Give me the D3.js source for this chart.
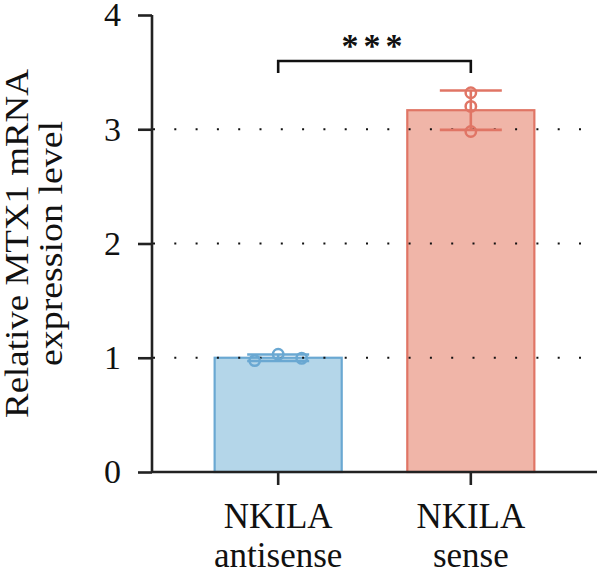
<!DOCTYPE html>
<html>
<head>
<meta charset="utf-8">
<script src="https://cdn.jsdelivr.net/npm/d3@7"></script>
<style>
  body { margin: 0; background: #fff; }
  svg text { font-family: "Liberation Serif", "Times New Roman", "DejaVu Serif", serif !important; fill: #111; }
</style>
</head>
<body>
<div id="container"></div>
<script>
const categories = ["NKILA antisense", "NKILA sense"];
const labelLines = [["NKILA", "antisense"], ["NKILA", "sense"]];
const replicates = [
  [1.03, 0.975, 0.995],
  [3.32, 3.2, 2.98],
];
const yTicks = [0, 1, 2, 3, 4];
const gridValues = [1, 2, 3];
const yTitle = ["Relative MTX1 mRNA", "expression level"];
const significance = "***";

const fills = ["#b4d6e9", "#f0b5a8"];
const strokes = ["#6aa8d2", "#e07565"];
const serif = "'Liberation Serif', 'Times New Roman', serif";

const width = 600;
const height = 574;
const margin = { top: 15, right: 3, bottom: 102, left: 152 };

const svg = d3
  .select("#container")
  .append("svg")
  .attr("width", width)
  .attr("height", height)
  .attr("font-family", serif);

const x = d3
  .scaleBand()
  .domain(categories)
  .range([margin.left, width - margin.right])
  .paddingInner(0.33)
  .paddingOuter(0.32);

const y = d3
  .scaleLinear()
  .domain([0, 4])
  .range([height - margin.bottom, margin.top]);

const stats = replicates.map((vals, i) => ({
  cat: categories[i],
  i,
  mean: d3.mean(vals),
  sd: d3.deviation(vals),
  vals,
}));

// bars
svg
  .selectAll("rect.bar")
  .data(stats)
  .join("rect")
  .attr("class", "bar")
  .attr("x", (d) => x(d.cat) + 1)
  .attr("width", x.bandwidth() - 2)
  .attr("y", (d) => y(d.mean))
  .attr("height", (d) => y(0) - y(d.mean))
  .attr("fill", (d) => fills[d.i])
  .attr("stroke", (d) => strokes[d.i])
  .attr("stroke-width", 2.2);

// dotted grid lines, drawn over the bars
svg
  .selectAll("line.grid")
  .data(gridValues)
  .join("line")
  .attr("class", "grid")
  .attr("x1", margin.left + 1)
  .attr("x2", width - margin.right)
  .attr("y1", (d) => y(d))
  .attr("y2", (d) => y(d))
  .attr("stroke", "#111")
  .attr("stroke-width", 2)
  .attr("stroke-dasharray", "2 19.3");

// error bars (mean +/- sd)
const capHalf = 31;
const err = svg.selectAll("g.err").data(stats).join("g").attr("class", "err");
err
  .append("line")
  .attr("x1", (d) => x(d.cat) + x.bandwidth() / 2)
  .attr("x2", (d) => x(d.cat) + x.bandwidth() / 2)
  .attr("y1", (d) => y(d.mean + d.sd))
  .attr("y2", (d) => y(d.mean - d.sd));
err
  .selectAll("line.cap")
  .data((d) => [d.mean + d.sd, d.mean - d.sd].map((v) => ({ v, d })))
  .join("line")
  .attr("class", "cap")
  .attr("x1", (e) => x(e.d.cat) + x.bandwidth() / 2 - capHalf)
  .attr("x2", (e) => x(e.d.cat) + x.bandwidth() / 2 + capHalf)
  .attr("y1", (e) => y(e.v))
  .attr("y2", (e) => y(e.v));
err
  .selectAll("line")
  .attr("stroke", (d, j, n) => strokes[d3.select(n[j].parentNode).datum().i])
  .attr("stroke-width", 2.6);

// points, dodged sideways when they overlap
const r = 5.2;
const step = 23.5;
const points = [];
stats.forEach((s) => {
  const cx0 = x(s.cat) + x.bandwidth() / 2;
  const placed = [];
  s.vals.forEach((v) => {
    const cy = y(v);
    const offsets = [0, -step, step, -2 * step, 2 * step];
    let px = cx0;
    for (const o of offsets) {
      const hit = placed.some(
        (p) => Math.hypot(p.cx - (cx0 + o), p.cy - cy) < 2 * r + 2
      );
      if (!hit) {
        px = cx0 + o;
        break;
      }
    }
    placed.push({ cx: px, cy });
    points.push({ cx: px, cy, i: s.i });
  });
});

svg
  .selectAll("circle")
  .data(points)
  .join("circle")
  .attr("cx", (d) => d.cx)
  .attr("cy", (d) => d.cy)
  .attr("r", r)
  .attr("fill", "none")
  .attr("stroke", (d) => strokes[d.i])
  .attr("stroke-width", 2.5);

// axes
const yAxis = svg
  .append("g")
  .attr("transform", `translate(${margin.left},0)`)
  .call(
    d3
      .axisLeft(y)
      .tickValues(yTicks)
      .tickFormat(d3.format("d"))
      .tickSize(14)
      .tickPadding(17)
  );
yAxis.select(".domain").attr("d", `M0,${y(4)}V${y(0)}`);

const xAxis = svg
  .append("g")
  .attr("transform", `translate(0,${y(0)})`)
  .call(d3.axisBottom(x).tickSize(13).tickFormat(""));
xAxis
  .select(".domain")
  .attr("d", `M${margin.left},0H${width - margin.right}`);

svg.selectAll("g").attr("font-family", null);
svg
  .selectAll(".domain, .tick line")
  .attr("stroke", "#222")
  .attr("stroke-width", 2.6);
yAxis
  .selectAll("text")
  .attr("font-size", 34)
  .attr("fill", "#111")
  .attr("dy", "0.32em");

const xl = xAxis
  .selectAll(".tick")
  .append("text")
  .attr("text-anchor", "middle")
  .attr("font-size", 35)
  .attr("fill", "#111");
xl.selectAll("tspan")
  .data((d) => labelLines[categories.indexOf(d)])
  .join("tspan")
  .attr("x", 0)
  .attr("y", (d, j) => 56 + j * 39)
  .text((d) => d);

// y title, two lines
const titleLen = [349, 245];
svg
  .selectAll("text.ytitle")
  .data(yTitle)
  .join("text")
  .attr("class", "ytitle")
  .attr("transform", (d, j) => `translate(${28 + j * 34},${(y(0) + y(4)) / 2}) rotate(-90)`)
  .attr("text-anchor", "middle")
  .attr("font-size", 33)
  .attr("textLength", (d, j) => titleLen[j])
  .attr("lengthAdjust", "spacingAndGlyphs")
  .text((d) => d);

// significance bracket
const bx1 = x(categories[0]) + x.bandwidth() / 2;
const bx2 = x(categories[1]) + x.bandwidth() / 2;
const by = 61;
svg
  .append("path")
  .attr("d", `M${bx1},${by + 12}V${by}H${bx2}V${by + 12}`)
  .attr("fill", "none")
  .attr("stroke", "#111")
  .attr("stroke-width", 2.6);
svg
  .append("text")
  .attr("x", (bx1 + bx2) / 2)
  .attr("y", 57)
  .attr("text-anchor", "middle")
  .attr("font-size", 34)
  .attr("font-weight", "bold")
  .attr("letter-spacing", 5)
  .text(significance);
</script>
</body>
</html>
